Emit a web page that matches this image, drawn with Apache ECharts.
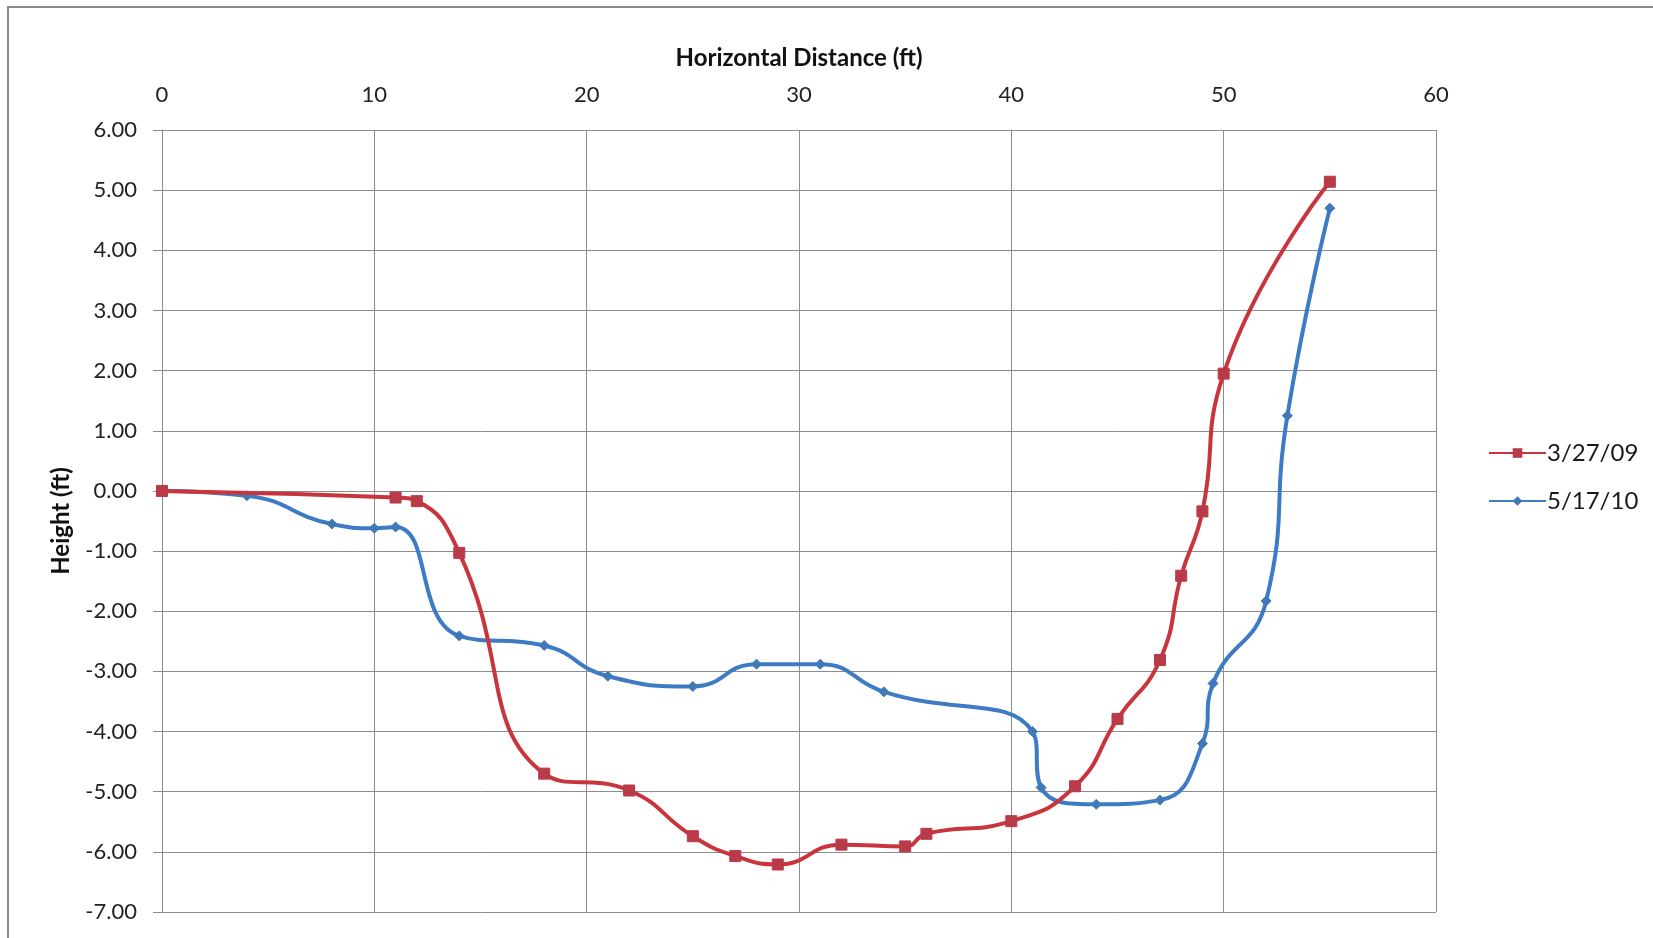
<!DOCTYPE html>
<html>
<head>
<meta charset="utf-8">
<script src="https://cdn.jsdelivr.net/npm/echarts@6/dist/echarts.min.js"></script>
<style>
  html, body { margin: 0; padding: 0; background: #ffffff; }
  #chart { width: 1653px; height: 938px; }
</style>
</head>
<body>
<div id="chart"></div>
<script>
// Series 1: 3/27/09
const redName = '3/27/09';
const redX = [0, 11, 12, 14, 18, 22, 25, 27, 29, 32, 35, 36, 40, 43, 45, 47, 48, 49, 50, 55];
const redY = [0, -0.11, -0.17, -1.03, -4.70, -4.98, -5.74, -6.07, -6.21, -5.88, -5.91, -5.70, -5.49, -4.91, -3.79, -2.81, -1.41, -0.34, 1.95, 5.14];

// Series 2: 5/17/10
const blueName = '5/17/10';
const blueX = [0, 4, 8, 10, 11, 14, 18, 21, 25, 28, 31, 34, 41, 41.4, 44, 47, 49, 49.5, 52, 53, 55];
const blueY = [0, -0.08, -0.55, -0.62, -0.60, -2.41, -2.57, -3.08, -3.25, -2.88, -2.88, -3.34, -4.00, -4.93, -5.21, -5.14, -4.20, -3.20, -1.83, 1.25, 4.70];

// Axis ranges / labels
const xAxisTitle = 'Horizontal Distance (ft)';
const yAxisTitle = 'Height (ft)';
const xMin = 0, xMax = 60, xStep = 10;
const yMin = -7, yMax = 6, yStep = 1;

const zip = (xs, ys) => xs.map((x, i) => [x, ys[i]]);

const FONT = 'Lato';
const GRID = '#8c8c8c';

const chart = echarts.init(document.getElementById('chart'), null, { renderer: 'canvas' });
chart.setOption({
  backgroundColor: '#ffffff',
  animation: false,
  graphic: [{
    type: 'rect',
    shape: { x: 8, y: 7, width: 1700, height: 1000 },
    style: { fill: 'none', stroke: '#8a8a8a', lineWidth: 2 },
    silent: true, z: -1
  }],
  grid: { left: 162, right: 217, top: 130, bottom: 26, containLabel: false },
  legend: {
    orient: 'vertical',
    left: 1483, top: 436,
    itemWidth: 57, itemHeight: 12, itemGap: 24,
    textStyle: { fontFamily: FONT, fontSize: 24, color: '#1a1a1a', padding: [0, 0, 0, -4] },
    data: [redName, blueName]
  },
  xAxis: {
    type: 'value', position: 'top',
    min: xMin, max: xMax, interval: xStep,
    name: xAxisTitle, nameLocation: 'middle', nameGap: 60,
    nameTextStyle: { fontFamily: FONT, fontSize: 24, fontWeight: 'bold', color: '#111' },
    axisLine: { show: true, lineStyle: { color: GRID, width: 1 } },
    axisTick: { show: true, length: 8, lineStyle: { color: GRID } },
    axisLabel: { fontFamily: FONT, fontSize: 22, color: '#222', margin: 24 },
    splitLine: { show: true, lineStyle: { color: GRID, width: 1 } }
  },
  yAxis: {
    type: 'value',
    min: yMin, max: yMax, interval: yStep,
    name: yAxisTitle, nameLocation: 'middle', nameGap: 89, nameRotate: 90,
    nameTextStyle: { fontFamily: FONT, fontSize: 24, fontWeight: 'bold', color: '#111' },
    axisLine: { show: true, lineStyle: { color: GRID, width: 1 } },
    axisTick: { show: true, length: 9, lineStyle: { color: GRID } },
    axisLabel: { fontFamily: FONT, fontSize: 22, color: '#222', margin: 25,
      formatter: v => v.toFixed(2) },
    splitLine: { show: true, lineStyle: { color: GRID, width: 1 } }
  },
  series: [
    {
      name: redName, type: 'line', data: zip(redX, redY),
      smooth: 0.5,
      symbol: 'rect', symbolSize: 11, showSymbol: true,
      lineStyle: { color: '#c9353c', width: 4 },
      itemStyle: { color: '#b93a48', borderColor: '#b93a48' },
      z: 3
    },
    {
      name: blueName, type: 'line', data: zip(blueX, blueY),
      smooth: 0.5,
      symbol: 'diamond', symbolSize: 10, showSymbol: true,
      lineStyle: { color: '#3d7cc4', width: 4 },
      itemStyle: { color: '#3f79b9', borderColor: '#3f79b9' },
      z: 2
    }
  ]
});
</script>
</body>
</html>
